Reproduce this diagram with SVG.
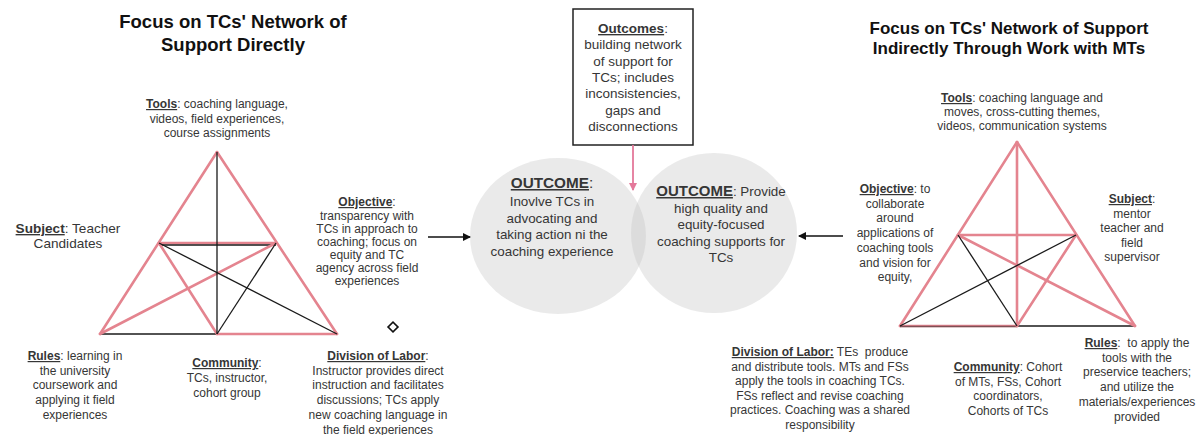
<svg xmlns="http://www.w3.org/2000/svg" width="1201" height="435" viewBox="0 0 1201 435">
<style>
  text { font-family: "Liberation Sans", Arial, sans-serif; fill: #363636; text-anchor: middle; }
  .t { font-size: 12px; }
  .title { font-size: 18.5px; font-weight: bold; fill: #111; }
  .title2 { font-size: 17px; font-weight: bold; fill: #111; }
  .box { font-size: 13.5px; }
  .circ { font-size: 13.4px; }
  .lab { font-weight: bold; text-decoration: underline; }
  .pk { stroke: #e4848f; stroke-width: 2.6; fill: none; stroke-linecap: round; }
  .bk { stroke: #1a1a1a; stroke-width: 1.3; fill: none; }
  .conn { stroke: #111; stroke-width: 1.5; fill: none; }
</style>
<defs>
  <marker id="ah" markerWidth="8" markerHeight="8" refX="7" refY="4" orient="auto" markerUnits="userSpaceOnUse">
    <path d="M0,0 L8,4 L0,8 Z" fill="#111"/>
  </marker>
  <marker id="ahp" markerWidth="8" markerHeight="10" refX="7" refY="4" orient="auto" markerUnits="userSpaceOnUse">
    <path d="M0,0 L8,4 L0,8 Z" fill="#e4789a"/>
  </marker>
</defs>
<rect width="1201" height="435" fill="#fff"/>

<g id="title-left">
  <text class="title" x="233" y="28">Focus on TCs' Network of</text>
  <text class="title" x="233" y="51">Support Directly</text>
</g>
<g id="title-right">
  <text class="title2" x="1009" y="34">Focus on TCs' Network of Support</text>
  <text class="title2" x="1009" y="54">Indirectly Through Work with MTs</text>
</g>

<g id="triangle-left">
  <line class="pk" x1="217" y1="152" x2="100" y2="334"/>
  <line class="pk" x1="217" y1="152" x2="337" y2="334"/>
  <line class="pk" x1="217" y1="334" x2="337" y2="334"/>
  <line class="bk" x1="100" y1="334" x2="217" y2="334"/>
  <line class="pk" x1="159" y1="243" x2="276" y2="243"/>
  <line class="bk" x1="159" y1="245" x2="276" y2="245"/>
  <line class="pk" x1="159" y1="243" x2="217" y2="334"/>
  <line class="pk" x1="100" y1="334" x2="276" y2="243"/>
  <line class="bk" x1="217" y1="152" x2="217" y2="334"/>
  <line class="bk" x1="276" y1="243" x2="217" y2="334"/>
  <line class="bk" x1="159" y1="243" x2="337" y2="334"/>
</g>

<g id="triangle-right">
  <line class="pk" x1="1017" y1="142" x2="900" y2="326"/>
  <line class="pk" x1="1017" y1="142" x2="1135" y2="326"/>
  <line class="pk" x1="900" y1="326" x2="1017" y2="326"/>
  <line class="bk" x1="900" y1="326.5" x2="1017" y2="326.5" stroke-opacity="0.5"/>
  <line class="bk" x1="1017" y1="326" x2="1135" y2="326"/>
  <line class="pk" x1="1017" y1="142" x2="1017" y2="326"/>
  <line class="pk" x1="958" y1="235" x2="1076" y2="235"/>
  <line class="pk" x1="1076" y1="235" x2="1017" y2="326"/>
  <line class="pk" x1="958" y1="235" x2="1135" y2="326"/>
  <line class="bk" x1="958" y1="235" x2="1017" y2="326"/>
  <line class="bk" x1="900" y1="326" x2="1076" y2="235"/>
</g>

<g id="tools-left">
  <text class="t" x="217" y="108"><tspan class="lab">Tools</tspan>: coaching language,</text>
  <text class="t" x="217" y="122.5">videos, field experiences,</text>
  <text class="t" x="217" y="137">course assignments</text>
</g>
<g id="subject-left">
  <text x="68" y="233" style="font-size:13.6px"><tspan class="lab">Subject</tspan>: Teacher</text>
  <text x="68" y="248" style="font-size:13.6px">Candidates</text>
</g>
<g id="objective-left">
  <text class="t" x="367" y="206"><tspan class="lab">Objective</tspan>:</text>
  <text class="t" x="367" y="219.5">transparency with</text>
  <text class="t" x="367" y="232.5">TCs in approach to</text>
  <text class="t" x="367" y="245.5">coaching; focus on</text>
  <text class="t" x="367" y="258.5">equity and TC</text>
  <text class="t" x="367" y="271.5">agency across field</text>
  <text class="t" x="367" y="284.5">experiences</text>
</g>
<g id="rules-left">
  <text class="t" x="75" y="360"><tspan class="lab">Rules</tspan>: learning in</text>
  <text class="t" x="75" y="374.7">the university</text>
  <text class="t" x="75" y="389.4">coursework and</text>
  <text class="t" x="75" y="404.1">applying it field</text>
  <text class="t" x="75" y="418.8">experiences</text>
</g>
<g id="community-left">
  <text class="t" x="227" y="367"><tspan class="lab">Community</tspan>:</text>
  <text class="t" x="227" y="382">TCs, instructor,</text>
  <text class="t" x="227" y="397">cohort group</text>
</g>
<g id="division-left">
  <text class="t" x="378" y="360"><tspan class="lab">Division of Labor</tspan>:</text>
  <text class="t" x="378" y="374.7">Instructor provides direct</text>
  <text class="t" x="378" y="389.4">instruction and facilitates</text>
  <text class="t" x="378" y="404.1">discussions; TCs apply</text>
  <text class="t" x="378" y="418.8">new coaching language in</text>
  <text class="t" x="378" y="433.5">the field experiences</text>
</g>
<g id="diamond">
  <rect x="389.5" y="323.5" width="7" height="7" transform="rotate(45 393 327)" fill="#fff" stroke="#111" stroke-width="1.6"/>
</g>

<g id="outcomes-box">
  <rect x="573" y="9" width="120" height="136" fill="#fff" stroke="#222" stroke-width="1.5"/>
  <text class="box" x="633" y="33"><tspan class="lab">Outcomes</tspan>:</text>
  <text class="box" x="633" y="49.3">building network</text>
  <text class="box" x="633" y="65.6">of support for</text>
  <text class="box" x="633" y="81.9">TCs; includes</text>
  <text class="box" x="633" y="98.2">inconsistencies,</text>
  <text class="box" x="633" y="114.5">gaps and</text>
  <text class="box" x="633" y="130.8">disconnections</text>
</g>

<g id="outcome-left">
  <ellipse cx="558" cy="236" rx="88" ry="78" fill="#c4c4c4" fill-opacity="0.36"/>
  <text x="552" y="188" style="font-size:15.3px;font-weight:bold"><tspan text-decoration="underline">OUTCOME</tspan><tspan style="font-weight:normal">:</tspan></text>
  <text class="circ" x="552" y="206">Inovlve TCs in</text>
  <text class="circ" x="552" y="222.5">advocating and</text>
  <text class="circ" x="552" y="239">taking action ni the</text>
  <text class="circ" x="552" y="255.5">coaching experience</text>
</g>
<g id="outcome-right">
  <ellipse cx="714" cy="233" rx="83" ry="80" fill="#c4c4c4" fill-opacity="0.36"/>
  <text class="circ" x="721" y="196"><tspan class="lab" style="font-size:15px">OUTCOME</tspan>: Provide</text>
  <text class="circ" x="721" y="212.5">high quality and</text>
  <text class="circ" x="721" y="229">equity-focused</text>
  <text class="circ" x="721" y="245.5">coaching supports for</text>
  <text class="circ" x="721" y="262">TCs</text>
</g>

<g id="tools-right">
  <text class="t" x="1022" y="102"><tspan class="lab">Tools</tspan>: coaching language and</text>
  <text class="t" x="1022" y="116">moves, cross-cutting themes,</text>
  <text class="t" x="1022" y="130">videos, communication systems</text>
</g>
<g id="objective-right">
  <text class="t" x="895" y="193"><tspan class="lab">Objective</tspan>: to</text>
  <text class="t" x="895" y="207.7">collaborate</text>
  <text class="t" x="895" y="222.4">around</text>
  <text class="t" x="895" y="237.1">applications of</text>
  <text class="t" x="895" y="251.8">coaching tools</text>
  <text class="t" x="895" y="266.5">and vision for</text>
  <text class="t" x="895" y="281.2">equity,</text>
</g>
<g id="subject-right">
  <text class="t" x="1132" y="203"><tspan class="lab">Subject</tspan>:</text>
  <text class="t" x="1132" y="217.5">mentor</text>
  <text class="t" x="1132" y="232">teacher and</text>
  <text class="t" x="1132" y="246.5">field</text>
  <text class="t" x="1132" y="261">supervisor</text>
</g>
<g id="rules-right">
  <text class="t" x="1137" y="347" xml:space="preserve"><tspan class="lab">Rules</tspan>:  to apply the</text>
  <text class="t" x="1137" y="361.7">tools with the</text>
  <text class="t" x="1137" y="376.4">preservice teachers;</text>
  <text class="t" x="1137" y="391.1">and utilize the</text>
  <text class="t" x="1137" y="405.8">materials/experiences</text>
  <text class="t" x="1137" y="420.5">provided</text>
</g>
<g id="community-right">
  <text class="t" x="1008" y="371"><tspan class="lab">Community</tspan>: Cohort</text>
  <text class="t" x="1008" y="385.7">of MTs, FSs, Cohort</text>
  <text class="t" x="1008" y="400.4">coordinators,</text>
  <text class="t" x="1008" y="415.1">Cohorts of TCs</text>
</g>
<g id="division-right">
  <text class="t" x="820" y="356" xml:space="preserve"><tspan class="lab">Division of Labor:</tspan> TEs  produce</text>
  <text class="t" x="820" y="370.6">and distribute tools. MTs and FSs</text>
  <text class="t" x="820" y="385.2">apply the tools in coaching TCs.</text>
  <text class="t" x="820" y="399.8">FSs reflect and revise coaching</text>
  <text class="t" x="820" y="414.4">practices. Coaching was a shared</text>
  <text class="t" x="820" y="429">responsibility</text>
</g>

<g id="connectors">
  <line class="conn" x1="428" y1="237" x2="470" y2="237" marker-end="url(#ah)"/>
  <line class="conn" x1="843" y1="236" x2="799" y2="236" marker-end="url(#ah)"/>
  <line x1="633" y1="145" x2="633" y2="190" stroke="#e4789a" stroke-width="1.8" marker-end="url(#ahp)"/>
</g>
</svg>
